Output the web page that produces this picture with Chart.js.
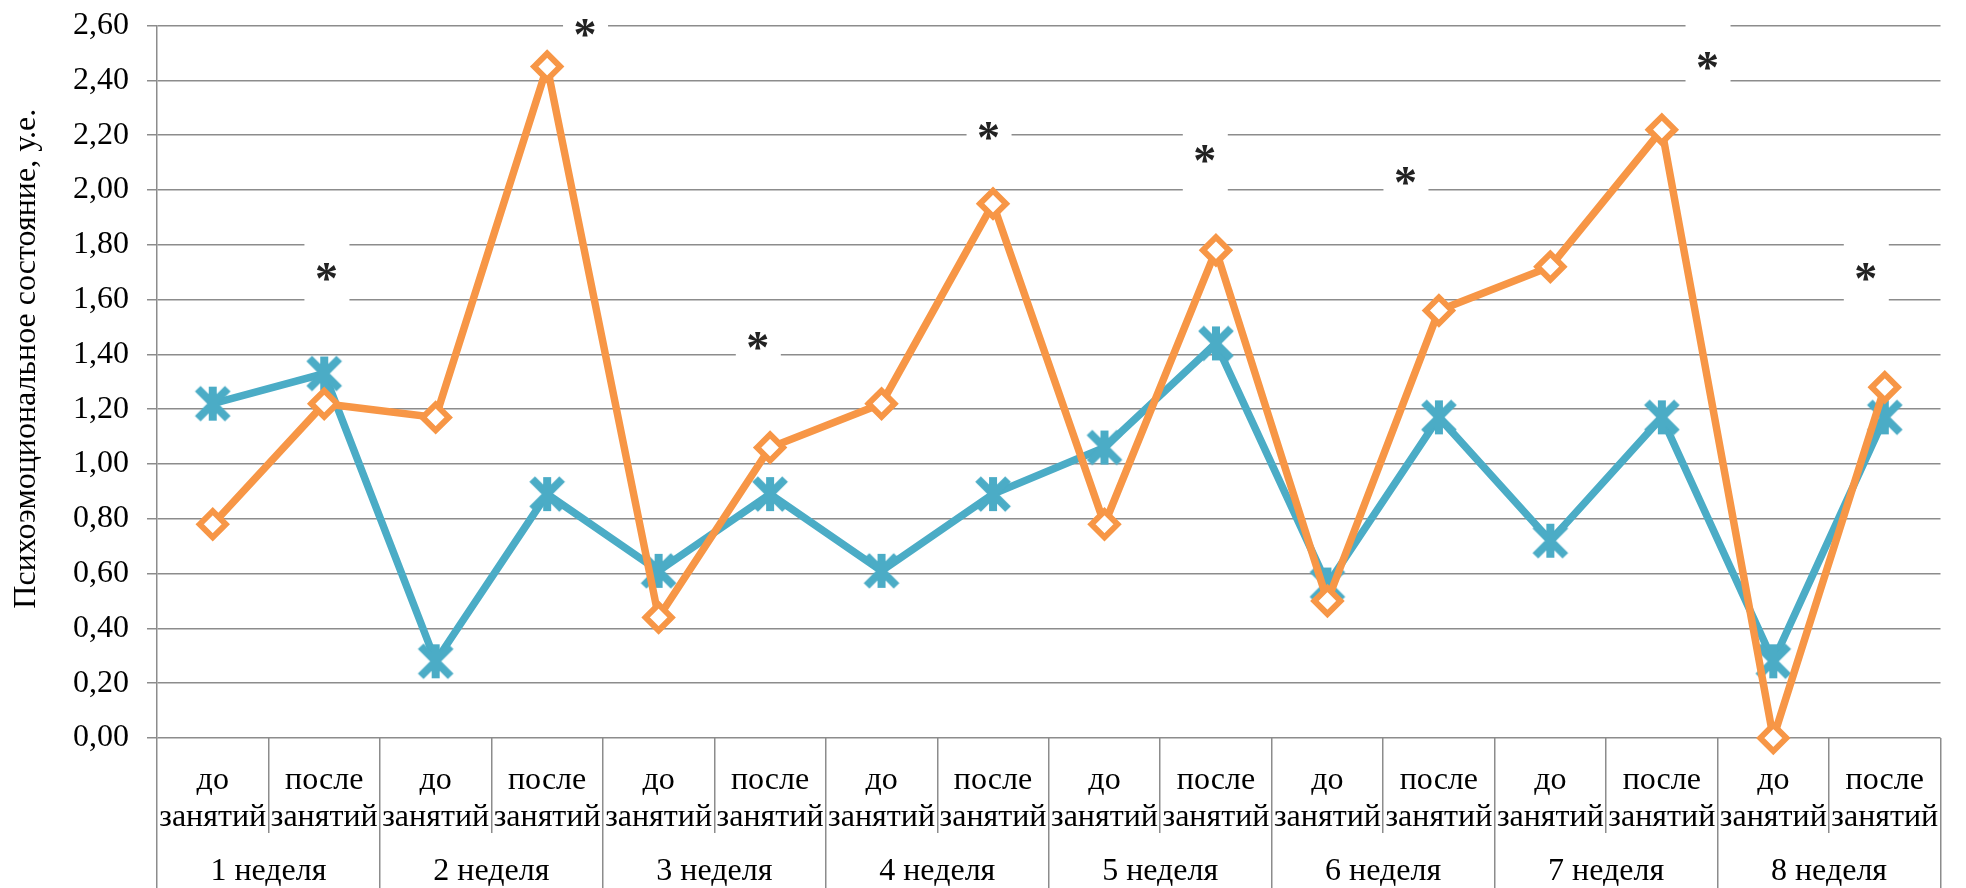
<!DOCTYPE html>
<html>
<head>
<meta charset="utf-8">
<title>Психоэмоциональное состояние</title>
<script src="https://cdn.jsdelivr.net/npm/chart.js@4.4.0/dist/chart.umd.min.js"></script>
<style>
  html, body { margin: 0; padding: 0; background: #fff; }
  canvas { display: block; }
</style>
</head>
<body>
<canvas id="myChart" width="1966" height="888"></canvas>
<script>
// подписи категорий (первый уровень оси X)
const categories = [
  ['до', 'занятий'], ['после', 'занятий'],
  ['до', 'занятий'], ['после', 'занятий'],
  ['до', 'занятий'], ['после', 'занятий'],
  ['до', 'занятий'], ['после', 'занятий'],
  ['до', 'занятий'], ['после', 'занятий'],
  ['до', 'занятий'], ['после', 'занятий'],
  ['до', 'занятий'], ['после', 'занятий'],
  ['до', 'занятий'], ['после', 'занятий']
];
// второй уровень оси X
const weeks = ['1 неделя', '2 неделя', '3 неделя', '4 неделя', '5 неделя', '6 неделя', '7 неделя', '8 неделя'];

const blueValues = [1.22, 1.33, 0.28, 0.89, 0.61, 0.89, 0.61, 0.89, 1.06, 1.44, 0.56, 1.17, 0.72, 1.17, 0.28, 1.17];
const orangeValues = [0.78, 1.22, 1.17, 2.45, 0.44, 1.06, 1.22, 1.95, 0.78, 1.78, 0.50, 1.56, 1.72, 2.22, 0.00, 1.28];

// звездочки (достоверность): позиция по оси X (индекс категории) и по оси Y
const starIndex = [1.02, 3.34, 4.89, 6.96, 8.90, 10.70, 13.41, 14.83];
const starValue = [1.70, 2.59, 1.45, 2.215, 2.13, 2.05, 2.47, 1.70];

const yTitle = 'Психоэмоциональное состояние, у.е.';

const FONT = 'Liberation Serif';
const GRID = '#8c8c8c';
const BLUE = '#4BACC6';
const ORANGE = '#F79646';

// маркер "звездочка" как в Excel: крест + вертикальная черта
function makeStarMarker() {
  const c = document.createElement('canvas');
  c.width = 44; c.height = 44;
  const g = c.getContext('2d');
  g.strokeStyle = BLUE;
  g.lineWidth = 8;
  g.lineCap = 'butt';
  g.beginPath();
  g.moveTo(7, 7); g.lineTo(37, 37);
  g.moveTo(37, 7); g.lineTo(7, 37);
  g.moveTo(22, 5); g.lineTo(22, 39);
  g.stroke();
  return c;
}

const starPlugin = {
  id: 'stars',
  beforeDatasetsDraw(chart) {
    const ctx = chart.ctx;
    const x = chart.scales.x, y = chart.scales.y;
    ctx.save();
    ctx.font = 'bold 46px "' + FONT + '"';
    ctx.textAlign = 'center';
    ctx.textBaseline = 'alphabetic';
    const m = ctx.measureText('*');
    starIndex.forEach((pos, i) => {
      const px = x.getPixelForValue(pos);
      const py = y.getPixelForValue(starValue[i]);
      ctx.fillStyle = '#ffffff';
      ctx.fillRect(px - 22, py - 38, 45, 78);
      ctx.fillStyle = '#222222';
      ctx.fillText('*', px, py + (m.actualBoundingBoxAscent - m.actualBoundingBoxDescent) / 2);
    });
    ctx.restore();
  },
  // подпись оси Y (немного выше центра, как в исходнике)
  afterDraw(chart) {
    const ctx = chart.ctx;
    const area = chart.chartArea;
    ctx.save();
    ctx.translate(27, (area.top + area.bottom) / 2 - 23);
    ctx.rotate(-Math.PI / 2);
    ctx.font = '32px "' + FONT + '"';
    ctx.fillStyle = '#000';
    ctx.textAlign = 'center';
    ctx.textBaseline = 'middle';
    ctx.fillText(yTitle, 0, 0);
    ctx.restore();
  }
};

const ctx = document.getElementById('myChart').getContext('2d');
const chart = new Chart(ctx, {
  type: 'line',
  data: {
    labels: categories,
    datasets: [{
      label: 'после',
      data: orangeValues,
      borderColor: ORANGE,
      borderWidth: 7.5,
      pointStyle: 'rectRot',
      pointRadius: 13,
      pointBorderWidth: 6,
      pointBorderColor: ORANGE,
      pointBackgroundColor: '#ffffff',
      tension: 0,
      clip: false
    }, {
      label: 'до',
      data: blueValues,
      borderColor: BLUE,
      borderWidth: 7.5,
      pointStyle: makeStarMarker(),
      pointRadius: 18,
      tension: 0,
      clip: false
    }]
  },
  options: {
    responsive: false,
    animation: false,
    devicePixelRatio: 1,
    layout: { padding: { top: 23, right: -2, left: 0, bottom: 0 } },
    plugins: {
      legend: { display: false },
      tooltip: { enabled: false }
    },
    scales: {
      y: {
        min: 0,
        max: 2.6,
        ticks: {
          stepSize: 0.2,
          color: '#000',
          padding: 18,
          font: { family: FONT, size: 32 },
          callback: v => v.toFixed(2).replace('.', ',')
        },
        grid: { color: GRID, lineWidth: 1.5, tickLength: 10 },
        border: { color: GRID, width: 1.5 },
        title: { display: false },
        afterFit(scale) {
          scale.width = 157;
          scale.paddingTop = 0;
          scale.paddingBottom = 0;
        }
      },
      x: {
        position: 'bottom',
        weight: 0,
        offset: true,
        ticks: {
          color: '#000',
          autoSkip: false,
          maxRotation: 0,
          padding: -71,
          font: { family: FONT, size: 32, lineHeight: 1.16 }
        },
        grid: { offset: true, drawOnChartArea: false, tickLength: 95, color: GRID, lineWidth: 1.5 },
        border: { display: false },
        afterFit(scale) { scale.height = 95; }
      },
      x2: {
        type: 'category',
        labels: weeks,
        position: 'bottom',
        weight: 1,
        offset: true,
        ticks: {
          color: '#000',
          autoSkip: false,
          maxRotation: 0,
          padding: -35,
          font: { family: FONT, size: 32, lineHeight: 1.16 }
        },
        grid: { offset: true, drawOnChartArea: false, tickLength: 55, color: GRID, lineWidth: 1.5 },
        border: { display: false },
        afterFit(scale) { scale.height = 55; }
      }
    }
  },
  plugins: [starPlugin]
});
</script>
</body>
</html>
